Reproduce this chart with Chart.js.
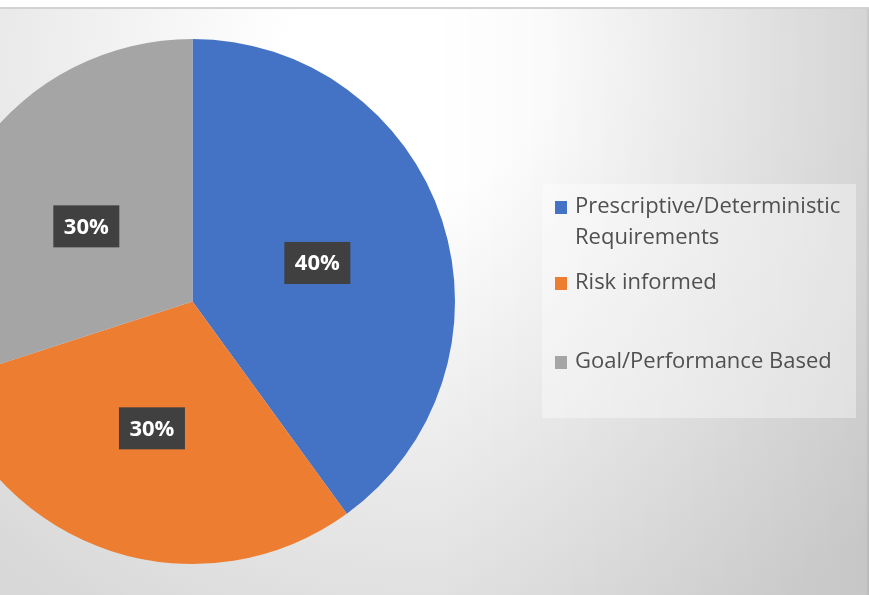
<!DOCTYPE html>
<html>
<head>
<meta charset="utf-8">
<script src="https://cdn.jsdelivr.net/npm/chart.js@4.4.1/dist/chart.umd.min.js"></script>
<style>
  html, body { margin: 0; padding: 0; width: 869px; height: 595px; overflow: hidden; }
  body {
    position: relative;
    background:
      linear-gradient(to right, rgba(0,0,0,0) 0%, rgba(0,0,0,0) 50%, rgba(0,0,0,0.08) 100%),
      radial-gradient(circle 650px at 420px 60px, #ffffff 0%, #ffffff 20%, #d8d8d8 100%);
  }
  #topband { position: absolute; left: 0; top: 0; width: 869px; height: 7px; background: #ffffff; border-bottom: 2px solid #d2d2d2; }
  #rightedge { position: absolute; right: 0; top: 9px; width: 3px; height: 586px; background: linear-gradient(to right, rgba(0,0,0,0), rgba(0,0,0,0.08)); }
  #chart { position: absolute; left: -70px; top: 0; }
</style>
</head>
<body>
<div id="topband"></div>
<div id="rightedge"></div>
<canvas id="chart" width="939" height="595"></canvas>
<script>
// Share of regulatory approaches
const categories = [
  ['Prescriptive/Deterministic', 'Requirements'],
  ['Risk informed'],
  ['Goal/Performance Based']
];
const shares = [40, 30, 30];
const sliceColors = ['#4472C4', '#ED7D31', '#A5A5A5'];

const FONT = '"Open Sans", "Noto Sans", sans-serif';
const X_SHIFT = 70; // canvas is shifted left so the pie runs off the page edge

// Dark boxed percentage labels in the middle of each slice
const sliceLabels = {
  id: 'sliceLabels',
  afterDatasetsDraw(chart) {
    const ctx = chart.ctx;
    const meta = chart.getDatasetMeta(0);
    const values = chart.data.datasets[0].data;
    const total = values.reduce((a, b) => a + b, 0);
    ctx.save();
    meta.data.forEach((arc, i) => {
      const p = arc.getCenterPoint();
      const text = Math.round(values[i] / total * 100) + '%';
      const w = 66, h = 42;
      ctx.fillStyle = '#404040';
      ctx.fillRect(p.x - w / 2, p.y - h / 2 + 2, w, h);
      ctx.fillStyle = '#ffffff';
      ctx.font = 'bold 22px ' + FONT;
      ctx.textAlign = 'center';
      ctx.textBaseline = 'middle';
      ctx.fillText(text, p.x, p.y + 3);
    });
    ctx.restore();
  }
};

// Legend panel on the right
const sideLegend = {
  id: 'sideLegend',
  afterDraw(chart) {
    const ctx = chart.ctx;
    const labels = chart.data.labels;
    const colors = chart.data.datasets[0].backgroundColor;
    const boxX = 542 + X_SHIFT, boxY = 184, boxW = 314, boxH = 234;
    ctx.save();
    ctx.fillStyle = 'rgba(255,255,255,0.38)';
    ctx.fillRect(boxX, boxY, boxW, boxH);
    const rows = [207, 283, 362];
    const lineH = 31;
    ctx.font = '22px ' + FONT;
    ctx.textBaseline = 'middle';
    ctx.textAlign = 'left';
    labels.forEach((lines, i) => {
      const y = rows[i];
      ctx.fillStyle = colors[i];
      ctx.fillRect(555 + X_SHIFT, y - 6, 12, 13);
      ctx.fillStyle = '#505050';
      lines.forEach((ln, k) => ctx.fillText(ln, 575 + X_SHIFT, y + k * lineH));
    });
    ctx.restore();
  }
};

new Chart(document.getElementById('chart'), {
  type: 'pie',
  data: {
    labels: categories,
    datasets: [{
      data: shares,
      backgroundColor: sliceColors,
      borderWidth: 0,
      hoverOffset: 0
    }]
  },
  options: {
    responsive: false,
    animation: false,
    events: [],
    layout: { padding: { left: 0, top: 39, bottom: 31, right: 414 } },
    plugins: { legend: { display: false }, tooltip: { enabled: false } }
  },
  plugins: [sliceLabels, sideLegend]
});
</script>
</body>
</html>
